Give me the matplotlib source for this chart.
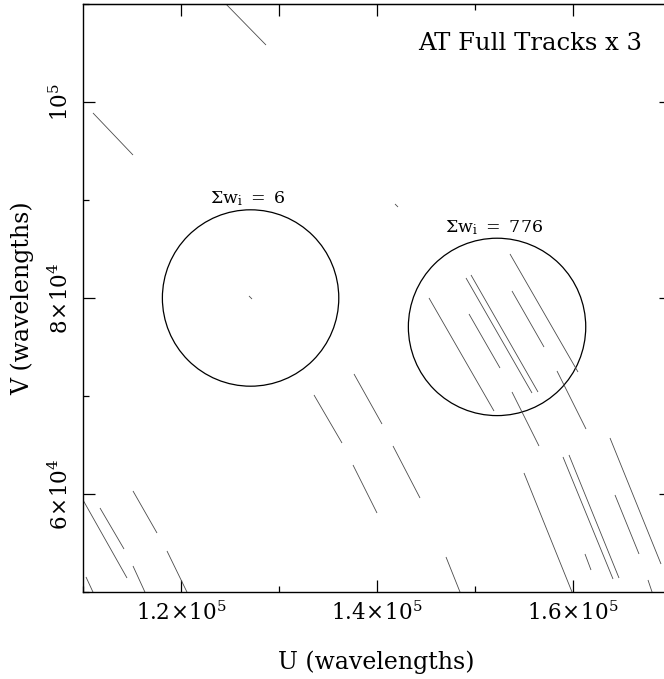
import matplotlib
matplotlib.use("Agg")
import matplotlib.pyplot as plt
from matplotlib.patches import Circle
from matplotlib.ticker import FixedLocator, NullFormatter

plt.rcParams['font.family'] = ['DejaVu Serif']
plt.rcParams['mathtext.fontset'] = 'dejavuserif'

# uv-track segments: (u_start, v_start, u_end, v_end) in wavelengths
track_u0 = [124184, 111020, 126939, 141837, 153571, 153775, 149592, 149082,
            149388, 145306, 153775, 158367, 137653, 133571, 141633, 137551,
            147041, 155000, 158980, 159592, 161224, 163776, 164286, 167653,
            115102, 110000, 111735, 115102, 118571, 110306]
track_v0 = [110408, 98878, 80204, 89592, 84490, 80714, 82347, 82041,
            78367, 80000, 70408, 72551, 72245, 70102, 64898, 62959,
            53571, 62143, 63776, 63980, 53878, 65714, 59898, 51224,
            60306, 59388, 58571, 52653, 54184, 51531]
track_u1 = [128673, 115102, 127245, 142143, 160510, 157041, 156428, 155816,
            152551, 151939, 156531, 161327, 140510, 136429, 144388, 140000,
            148673, 160100, 164082, 164694, 161837, 168980, 166735, 168200,
            117551, 114490, 114184, 116500, 120800, 111200]
track_v1 = [105816, 94592, 79898, 89286, 72449, 75000, 70408, 70306,
            72857, 68469, 64898, 66633, 67143, 65204, 59592, 58061,
            49490, 49500, 51327, 51429, 52245, 52857, 53878, 49600,
            56020, 51429, 54388, 49600, 49600, 49600]

# averaging circles: centre u, centre v, radius, summed weight
circle_u = [127100, 152250]
circle_v = [80000, 77050]
circle_r = [9000, 9050]
circle_w = [6, 776]

title_text = "AT Full Tracks x 3"
x_label = "U (wavelengths)"
y_label = "V (wavelengths)"
x_major = [120000, 140000, 160000]
x_major_labels = [r"$1.2\!\times\!10^5$", r"$1.4\!\times\!10^5$", r"$1.6\!\times\!10^5$"]
x_minor = [110000, 130000, 150000, 170000]
y_major = [60000, 80000, 100000]
y_major_labels = [r"$6\!\times\!10^4$", r"$8\!\times\!10^4$", r"$10^5$"]
y_minor = [50000, 70000, 90000, 110000]

W, H = 664, 679
fig = plt.figure(figsize=(W / 100, H / 100), dpi=100)
ax = fig.add_axes([83 / W, 87 / H, 588 / W, 588 / H])
ax.set_xlim(110000, 170000)
ax.set_ylim(50000, 110000)

for u0, v0, u1, v1 in zip(track_u0, track_v0, track_u1, track_v1):
    ax.plot([u0, u1], [v0, v1], color="#4a4a4a", lw=0.6, solid_capstyle="butt")

for cu, cv, r, w in zip(circle_u, circle_v, circle_r, circle_w):
    ax.add_patch(Circle((cu, cv), r, fill=False, ec="black", lw=0.9))
    ax.text(cu - 300, cv + r + 150,
            r"$\Sigma\mathrm{w}_{\mathrm{i}}\ =\ %d$" % w,
            ha="center", va="bottom", fontsize=12.5)

ax.text(0.951, 0.932, title_text, transform=ax.transAxes, ha="right",
        va="center", fontsize=17.5)

for s in ax.spines.values():
    s.set_linewidth(1.0)

ax.xaxis.set_major_locator(FixedLocator(x_major))
ax.xaxis.set_minor_locator(FixedLocator(x_minor))
ax.yaxis.set_major_locator(FixedLocator(y_major))
ax.yaxis.set_minor_locator(FixedLocator(y_minor))
ax.set_xticklabels(x_major_labels, fontsize=15.5)
ax.set_yticklabels(y_major_labels, fontsize=15.5, rotation=90, va="center")
ax.tick_params(which="major", direction="in", length=8.6, width=0.9,
               top=False, right=True, pad=7)
ax.tick_params(which="minor", direction="in", length=4.3, width=0.9,
               top=False, right=True)

top = ax.secondary_xaxis("top")
top.xaxis.set_major_locator(FixedLocator([120000, 130000, 140000, 160000]))
top.xaxis.set_minor_locator(FixedLocator([150000]))
top.xaxis.set_major_formatter(NullFormatter())
top.tick_params(which="major", direction="in", length=8.6, width=0.9)
top.tick_params(which="minor", direction="in", length=4.3, width=0.9)

fig.text(376 / W, 1 - 662 / H, x_label, ha="center", va="center", fontsize=17)
fig.text(22 / W, 1 - 298 / H, y_label, ha="center", va="center",
         rotation=90, fontsize=17)

fig.savefig("out.png", dpi=100)
